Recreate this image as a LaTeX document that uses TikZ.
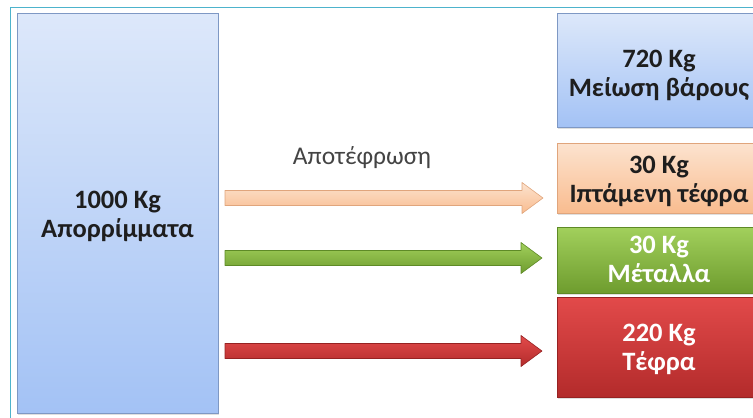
\documentclass[tikz,border=0pt]{standalone}
\usepackage{fontspec}
\setmainfont{Carlito}
\usetikzlibrary{calc,shadows}

\definecolor{frameC}{HTML}{4DB3CC}
\definecolor{blueTop}{HTML}{DDE8FA}
\definecolor{blueBot}{HTML}{A3C2F5}
\definecolor{blueEdge}{HTML}{7E98C4}
\definecolor{orTop}{HTML}{FCE3CF}
\definecolor{orBot}{HTML}{F9BC8F}
\definecolor{orEdge}{HTML}{E0A57C}
\definecolor{grTop}{HTML}{A2D05C}
\definecolor{grBot}{HTML}{6E9C2E}
\definecolor{grEdge}{HTML}{5E8A26}
\definecolor{rdTop}{HTML}{E24A4A}
\definecolor{rdBot}{HTML}{B32B2B}
\definecolor{rdEdge}{HTML}{962222}
\definecolor{txtDark}{HTML}{1E1E1E}
\definecolor{txtGray}{HTML}{444444}

\tikzset{
  box/.style={draw, line width=0.8pt, inner sep=0pt,
    drop shadow={opacity=0.25, shadow xshift=1pt, shadow yshift=-2pt}},
  bluebox/.style={box, draw=blueEdge, top color=blueTop, bottom color=blueBot},
  orangebox/.style={box, draw=orEdge, top color=orTop, bottom color=orBot},
  greenbox/.style={box, draw=grEdge, top color=grTop, bottom color=grBot},
  redbox/.style={box, draw=rdEdge, top color=rdTop, bottom color=rdBot},
  lbl/.style={align=center, font=\bfseries\fontsize{26.5}{29}\selectfont},
  darklbl/.style={lbl, text=txtDark},
  lightlbl/.style={lbl, text=white},
  blockarrow/.style={line width=0.6pt, line join=round},
}

% block arrow from coordinate #1 to coordinate #2
\newcommand{\blockarrow}[3]{%
  \path[blockarrow, #3]
    ($(#1)+(0,-7.5)$) -- ($(#2)+(-21,-7.5)$) -- ($(#2)+(-21,-15.5)$) --
    (#2) -- ($(#2)+(-21,15.5)$) -- ($(#2)+(-21,7.5)$) --
    ($(#1)+(0,7.5)$) -- cycle;}

\begin{document}
\begin{tikzpicture}[x=1pt, y=-1pt]
  \useasboundingbox (0,0) rectangle (753,418);

  % outer frame, running past the right and bottom edges
  \begin{scope}
    \clip (0,0) rectangle (753,418);
    \draw[frameC, line width=0.9pt] (10,7) rectangle (775,430);
  \end{scope}

  % source block
  \path[bluebox] (17,13) rectangle (218,413);
  \node[darklbl] (src) at (117.5,216) {1000 Kg\\Απορρίμματα};

  % result blocks
  \path[bluebox]   (557,13)  rectangle (765,127);
  \node[darklbl]  (loss) at (659,75)  {720 Kg\\Μείωση βάρους};
  \path[orangebox] (557,143) rectangle (765,213);
  \node[darklbl]  (fly)  at (659,181) {30 Kg\\Ιπτάμενη τέφρα};
  \path[greenbox]  (557,227) rectangle (765,293);
  \node[lightlbl] (met)  at (659,259) {30 Kg\\Μέταλλα};
  \path[redbox]    (557,297) rectangle (765,397);
  \node[lightlbl] (ash)  at (659,349) {220 Kg\\Τέφρα};

  % process label
  \node[text=txtGray, font=\fontsize{25.5}{28}\selectfont] (proc) at (362,158) {Αποτέφρωση};

  % flow arrows
  \coordinate (o1) at (225,198); \coordinate (o2) at (543,198);
  \coordinate (g1) at (225,258); \coordinate (g2) at (542,258);
  \coordinate (r1) at (225,351); \coordinate (r2) at (542,351);
  \blockarrow{o1}{o2}{draw=orEdge, top color=orTop, bottom color=orBot}
  \blockarrow{g1}{g2}{draw=grEdge, top color=grTop, bottom color=grBot}
  \blockarrow{r1}{r2}{draw=rdEdge, top color=rdTop, bottom color=rdBot}
\end{tikzpicture}
\end{document}
